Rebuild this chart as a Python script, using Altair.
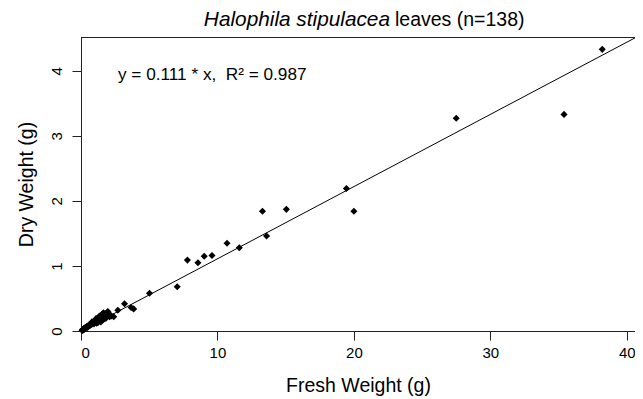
import altair as alt
import pandas as pd

# dense cluster of small leaves (fresh g, dry g)
cluster_fresh = [0.08, 0.11, 0.13, 0.15, 0.17, 0.19, 0.21, 0.22, 0.24, 0.26,
                 0.27, 0.29, 0.31, 0.32, 0.34, 0.36, 0.37, 0.39, 0.41, 0.42,
                 0.44, 0.45, 0.47, 0.49, 0.50, 0.52, 0.54, 0.55, 0.57, 0.59,
                 0.60, 0.62, 0.64, 0.65, 0.67, 0.69, 0.71, 0.72, 0.74, 0.76,
                 0.78, 0.79, 0.81, 0.83, 0.85, 0.87, 0.88, 0.90, 0.92, 0.94,
                 0.96, 0.98, 1.00, 1.02, 1.04, 1.06, 1.08, 1.10, 1.12, 1.14,
                 1.16, 1.18, 1.20, 1.22, 1.24, 1.26, 1.28, 1.30, 1.32, 1.34,
                 1.36, 1.38, 1.40, 1.42, 1.44, 1.46, 1.48, 1.50, 1.52, 1.54,
                 1.56, 1.58, 1.60, 1.62, 1.64, 1.66, 1.68, 1.70, 1.72, 1.74,
                 1.76, 1.78, 1.80, 1.82, 1.84, 1.86, 1.88, 1.90, 1.92, 1.95,
                 1.97, 2.00, 1.45, 1.60, 1.75, 1.35, 1.55, 1.25, 1.10, 0.95,
                 0.80, 1.65, 1.50, 2.10, 2.25, 1.85, 1.15]
cluster_dry = [0.01, 0.02, 0.01, 0.02, 0.03, 0.02, 0.03, 0.03, 0.04, 0.03,
               0.04, 0.04, 0.05, 0.04, 0.05, 0.05, 0.06, 0.05, 0.06, 0.06,
               0.07, 0.06, 0.07, 0.06, 0.07, 0.08, 0.07, 0.08, 0.08, 0.09,
               0.08, 0.09, 0.09, 0.10, 0.09, 0.10, 0.10, 0.11, 0.10, 0.11,
               0.11, 0.12, 0.11, 0.12, 0.12, 0.13, 0.12, 0.13, 0.13, 0.14,
               0.13, 0.14, 0.14, 0.15, 0.14, 0.15, 0.15, 0.16, 0.15, 0.16,
               0.16, 0.17, 0.16, 0.17, 0.17, 0.18, 0.17, 0.18, 0.18, 0.19,
               0.18, 0.19, 0.19, 0.20, 0.19, 0.20, 0.20, 0.21, 0.20, 0.21,
               0.21, 0.22, 0.21, 0.22, 0.22, 0.23, 0.22, 0.23, 0.24, 0.23,
               0.24, 0.25, 0.24, 0.26, 0.25, 0.27, 0.26, 0.28, 0.27, 0.29,
               0.30, 0.28, 0.14, 0.17, 0.19, 0.23, 0.26, 0.13, 0.19, 0.11,
               0.14, 0.28, 0.17, 0.22, 0.23, 0.20, 0.12]
# larger leaves
outer_fresh = [38.2, 35.4, 27.5, 20.0, 19.45, 15.05, 13.6, 13.3, 11.6, 10.7,
               9.6, 9.03, 8.57, 7.8, 7.05, 5.02, 3.86, 3.67, 3.19, 2.7, 2.4]
outer_dry = [4.33, 3.33, 3.27, 1.84, 2.19, 1.87, 1.46, 1.84, 1.28, 1.35,
             1.16, 1.15, 1.05, 1.09, 0.68, 0.58, 0.34, 0.36, 0.42, 0.32, 0.22]

x_ticks = [0, 10, 20, 30, 40]
y_ticks = [0, 1, 2, 3, 4]
fit_x = [0, 42]
fit_y = [0, 4.662]

title_italic = "Halophila stipulacea"
title_rest = "leaves (n=138)"
equation = "y = 0.111 * x,\u00a0 R² = 0.987"

df = pd.DataFrame({"fresh": cluster_fresh + outer_fresh,
                   "dry": cluster_dry + outer_dry})
fit_df = pd.DataFrame({"fresh": fit_x, "dry": fit_y})
one = pd.DataFrame({"a": [0]})

W, H = 554, 294
FONT = "Liberation Sans"
xs = alt.Scale(domain=[0, 40.6], nice=False, zero=False)
ys = alt.Scale(domain=[0, 4.52], nice=False, zero=False)
x_axis = alt.Axis(values=x_ticks, title="Fresh Weight (g)",
                  labelPadding=5, titlePadding=16)
y_axis = alt.Axis(values=y_ticks, title="Dry Weight (g)", labelAngle=-90,
                  labelAlign="center", labelBaseline="bottom",
                  labelPadding=8, titlePadding=13)

pts = alt.Chart(df).mark_point(shape="diamond", filled=True, size=50,
                               color="black", opacity=1).encode(
    x=alt.X("fresh:Q", scale=xs, axis=x_axis),
    y=alt.Y("dry:Q", scale=ys, axis=y_axis),
)

line = alt.Chart(fit_df).mark_line(color="black", strokeWidth=1, clip=True).encode(
    x=alt.X("fresh:Q", scale=xs, axis=x_axis),
    y=alt.Y("dry:Q", scale=ys, axis=y_axis),
)

top = alt.Chart(one).mark_rule(color="#222222", strokeWidth=1).encode(
    x=alt.value(0), x2=alt.value(W), y=alt.value(0.5)
)

t1 = alt.Chart(one).mark_text(text=title_italic, fontStyle="italic", font=FONT,
                              fontSize=20.8, align="right", baseline="alphabetic",
                              color="black").encode(
    x=alt.value(309), y=alt.value(-11))
t2 = alt.Chart(one).mark_text(text=title_rest, font=FONT, fontSize=19.5,
                              align="left", baseline="alphabetic",
                              color="black").encode(
    x=alt.value(314), y=alt.value(-11))
eq = alt.Chart(one).mark_text(text=equation, font=FONT, fontSize=17.2,
                              align="left", baseline="middle",
                              color="black").encode(
    x=alt.value(37), y=alt.value(38))

chart = alt.layer(pts, line, top, t1, t2, eq).properties(
    width=W, height=H,
    autosize=alt.AutoSizeParams(type="none"),
    padding={"left": 73, "top": 29, "right": 0, "bottom": 68},
).configure_view(stroke=None).configure_axis(
    grid=False, domainColor="#222222", tickColor="#222222", tickSize=9,
    labelFont=FONT, titleFont=FONT, labelFontSize=15, titleFontSize=19.5,
    labelColor="black", titleColor="black", titleFontWeight="normal",
)

chart.save("out.html", embed_options={"renderer": "svg", "actions": False})
